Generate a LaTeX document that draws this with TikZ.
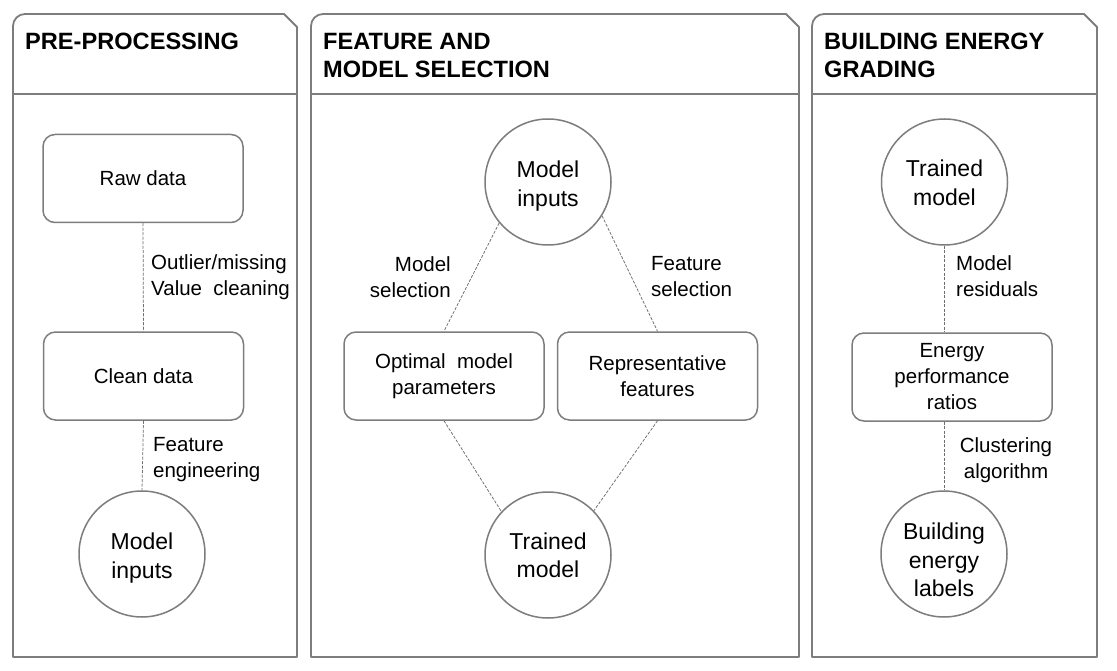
\documentclass[tikz,border=0pt]{standalone}
\usepackage{fontspec}
\setmainfont{Liberation Sans}
\definecolor{bord}{RGB}{125,125,125}
\definecolor{lnk}{RGB}{110,110,110}
\newcommand\smallf{\fontsize{20.5}{26}\selectfont}
\newcommand\circf{\fontsize{23}{28.5}\selectfont}
\newcommand\ttlf{\fontsize{23.6}{28}\selectfont\bfseries}
\newcommand\cstrut[1][25pt]{\rule{0pt}{#1}}
\begin{document}
\begin{tikzpicture}[x=1pt,y=-1pt,
  panel/.style={draw=bord, line width=1.8pt, line join=round},
  hline/.style={draw=bord, line width=1.8pt},
  box/.style={draw=bord, line width=1.5pt, rounded corners=12pt, minimum width=200pt, minimum height=88pt, align=center, font=\smallf, inner sep=0pt},
  circ/.style={draw=bord, line width=1.5pt, circle, minimum size=126pt, align=center, font=\circf, inner sep=0pt},
  link/.style={draw=lnk, line width=0.75pt, dash pattern=on 3pt off 1.5pt},
  lbl/.style={font=\smallf, inner sep=0pt},
  ttl/.style={font=\ttlf, align=left, inner sep=0pt}]
\fill[white] (0,0) rectangle (1117,671);
\useasboundingbox (0,0) rectangle (1117,671);

% panels
\draw[panel] (13,657) -- (13,26) .. controls (13,19.4) and (18.4,14) .. (25,14) -- (284,14) -- (297,27) -- (297,657) -- cycle;
\draw[hline] (13,94) -- (297,94);
\draw[panel] (311,657) -- (311,26) .. controls (311,19.4) and (316.4,14) .. (323,14) -- (786,14) -- (799,27) -- (799,657) -- cycle;
\draw[hline] (311,94) -- (799,94);
\draw[panel] (812,657) -- (812,26) .. controls (812,19.4) and (817.4,14) .. (824,14) -- (1084,14) -- (1097,27) -- (1097,657) -- cycle;
\draw[hline] (812,94) -- (1097,94);

% titles
\node[ttl, anchor=north west] (t1) at (25,33) {PRE-PROCESSING};
\node[ttl, anchor=north west] (t2) at (323,33) {FEATURE AND\\MODEL SELECTION};
\node[ttl, anchor=north west] (t3) at (824,33) {BUILDING ENERGY\\GRADING};

% panel 1
\node[box] (rawd) at (143,178.5) {Raw data};
\node[box] (clean) at (143.5,376) {Clean data};
\node[circ] (inp1) at (142,554) {\cstrut Model\\inputs};
\draw[link] (rawd.south) -- (clean.north);
\draw[link] (clean.south) -- (inp1.north);
\node[lbl, align=left, anchor=west] (l1) at (151,277) {Outlier/missing\\Value\ \ cleaning};
\node[lbl, align=left, anchor=west] (l2) at (153,459.5) {Feature\\engineering};

% panel 2
\node[circ] (inp2) at (548,182) {\cstrut Model\\inputs};
\node[box] (optp) at (444,376) {Optimal\ \ model\\parameters};
\node[box] (repf) at (657.5,376) {Representative\\features};
\node[circ] (trn2) at (548,555) {\cstrut[17pt]Trained\\model};
\draw[link] (inp2.220) -- (optp.north);
\draw[link] (inp2.-32) -- (repf.north);
\draw[link] (optp.south) -- (trn2.137);
\draw[link] (repf.south) -- (trn2.44);
\node[lbl, align=right, anchor=east] (l3) at (451,277.5) {Model\\selection};
\node[lbl, align=left, anchor=west] (l4) at (651,277) {Feature\\selection};

% panel 3
\node[circ] (trn3) at (944.5,182) {\cstrut[18pt]Trained\\model};
\node[box] (epr) at (952,377) {Energy\\performance\\ratios};
\node[circ] (bel) at (944,554) {\cstrut[29pt]Building\\energy\\labels};
\draw[link] (trn3.south) -- (trn3.south |- epr.north);
\draw[link] (bel.north |- epr.south) -- (bel.north);
\node[lbl, align=left, anchor=west] (l5) at (956,276.5) {Model\\residuals};
\node[lbl, align=center] (l6) at (1006,460) {Clustering\\algorithm};
\end{tikzpicture}
\end{document}
